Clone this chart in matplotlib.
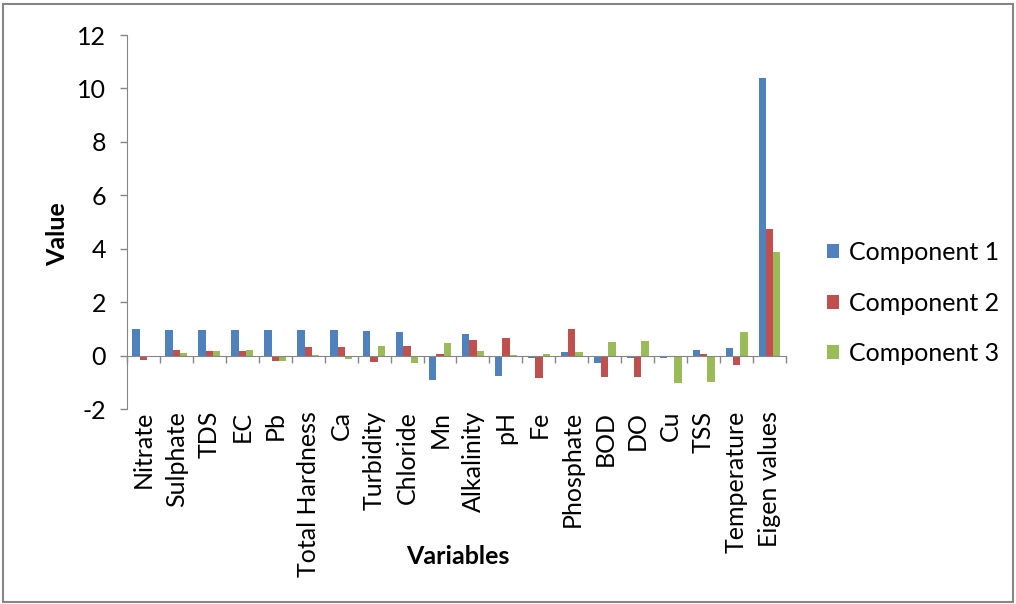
import numpy as np
import matplotlib
matplotlib.use("Agg")
from matplotlib import pyplot
from matplotlib.patches import Rectangle
import matplotlib.transforms as mtransforms

pyplot.rcParams['font.family'] = ['Lato', 'DejaVu Sans']
pyplot.rcParams['axes.unicode_minus'] = False

# Loadings per variable plus eigen values
variables = ["Nitrate", "Sulphate", "TDS", "EC", "Pb", "Total Hardness", "Ca",
             "Turbidity", "Chloride", "Mn", "Alkalinity", "pH", "Fe", "Phosphate",
             "BOD", "DO", "Cu", "TSS", "Temperature", "Eigen values"]
comp1 = [1.00, 0.97, 0.97, 0.97, 0.96, 0.95, 0.95, 0.91, 0.90, -0.90,
         0.81, -0.75, -0.09, 0.15, -0.27, -0.09, -0.09, 0.22, 0.27, 10.38]
comp2 = [-0.15, 0.21, 0.19, 0.19, -0.19, 0.32, 0.31, -0.24, 0.35, 0.06,
         0.59, 0.67, -0.85, 1.00, -0.81, -0.81, -0.02, 0.05, -0.36, 4.75]
comp3 = [-0.05, 0.10, 0.16, 0.20, -0.21, 0.01, -0.11, 0.35, -0.27, 0.47,
         0.16, 0.01, 0.06, 0.14, 0.50, 0.56, -1.02, -0.97, 0.90, 3.88]
series = [("Component 1", comp1, "#4F81BD"),
          ("Component 2", comp2, "#C0504D"),
          ("Component 3", comp3, "#9BBB59")]

fs = 18
fig = pyplot.figure(figsize=(10.16, 6.04), dpi=100)
ax = fig.add_axes([0.125, 0.3228, 0.6486, 0.6192])

x = np.arange(len(variables))
w = 1 / 4.5
for k, (name, vals, col) in enumerate(series):
    ax.bar(x + (k - 1) * w, vals, w, color=col, label=name, zorder=2)

axcol = "#868686"
ax.set_xlim(-0.5, len(variables) - 0.5)
ax.set_ylim(-2, 12)
ax.set_yticks(np.arange(-2, 13, 2))
for s in ["top", "right"]:
    ax.spines[s].set_visible(False)
ax.spines["left"].set_color(axcol)
ax.spines["bottom"].set_color(axcol)
ax.spines["bottom"].set_position(("data", 0))
ax.set_xticks(np.arange(len(variables) + 1) - 0.5)
ax.set_xticklabels([])
ax.tick_params(axis="both", color=axcol, length=5, width=1, labelsize=fs)
ax.tick_params(axis="y", pad=10)

# category names sit below the plot, not at the zero line
trans = mtransforms.blended_transform_factory(ax.transData, ax.transAxes)
for i, name in enumerate(variables):
    ax.text(i, -0.005, name, transform=trans, rotation=90, ha="center", va="top",
            fontsize=fs)

fig.text(0.057, 0.612, "Value", fontsize=fs, fontweight="bold", rotation=90,
         ha="center", va="center")
fig.text(0.451, 0.078, "Variables", fontsize=fs, fontweight="bold", ha="center", va="center")

ax.legend(loc="center left", bbox_to_anchor=(1.028, 0.283), frameon=False,
          fontsize=fs, handlelength=0.5, handleheight=0.5, labelspacing=1.1,
          handletextpad=0.4)

fig.patches.append(Rectangle((0.003, 0.003), 0.994, 0.99, transform=fig.transFigure,
                             fill=False, edgecolor=axcol, lw=1.5))

pyplot.savefig("out.png")
